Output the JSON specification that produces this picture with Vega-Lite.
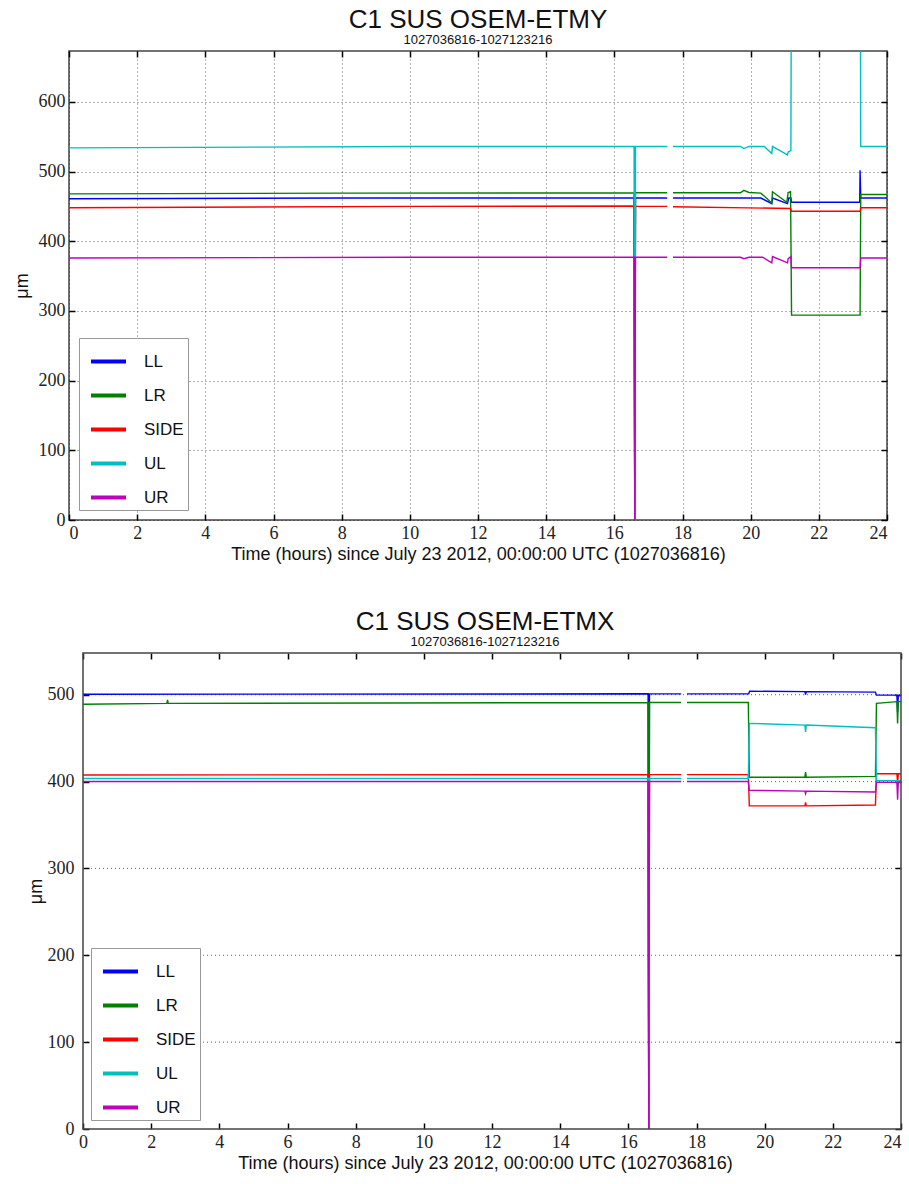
{
  "$schema": "https://vega.github.io/schema/vega-lite/v6.json",
  "background": "white",
  "padding": {"left": 12, "top": 6, "right": 5, "bottom": 5},
  "config": {
    "font": "Liberation Sans",
    "view": {"stroke": "#444", "strokeWidth": 1.5},
    "axis": {
      "labelFont": "Liberation Serif",
      "labelFontSize": 18,
      "labelColor": "#222",
      "titleFont": "Liberation Sans",
      "titleFontSize": 18,
      "titleFontWeight": "normal",
      "titleColor": "#111",
      "gridColor": "#000",
      "gridDash": [1, 3],
      "gridOpacity": 0.6,
      "gridWidth": 1,
      "tickColor": "#000",
      "tickSize": -6,
      "tickWidth": 1.5,
      "domain": false,
      "labelPadding": 10
    },
    "title": {"font": "Liberation Sans", "fontSize": 26, "fontWeight": "normal", "subtitleFont": "Liberation Sans", "subtitleFontSize": 13, "subtitleColor": "#111", "color": "#111", "anchor": "middle", "frame": "group", "offset": 3, "subtitlePadding": 1},
    "legend": {
      "orient": "bottom-left",
      "offset": 10,
      "padding": 4,
      "symbolOffset": 6,
      "fillColor": "white",
      "strokeColor": "#999",
      "symbolType": "stroke",
      "symbolSize": 1225,
      "symbolStrokeWidth": 4,
      "labelFont": "Liberation Sans",
      "labelFontSize": 17,
      "labelColor": "#111",
      "labelOffset": 16,
      "rowPadding": 6,
      "title": null
    }
  },
  "resolve": {"legend": {"color": "independent"}},
  "spacing": 45,
  "datasets": {
    "etmy": [
      {"s": "LL", "g": 1, "t": 0, "v": 461}, {"s": "LL", "g": 1, "t": 8, "v": 462}, {"s": "LL", "g": 1, "t": 16.58, "v": 462}, {"s": "LL", "g": 1, "t": 16.6, "v": 0}, {"s": "LL", "g": 1, "t": 16.62, "v": 462}, {"s": "LL", "g": 1, "t": 17.55, "v": 462},
      {"s": "LL", "g": 2, "t": 17.72, "v": 462}, {"s": "LL", "g": 2, "t": 20.3, "v": 462}, {"s": "LL", "g": 2, "t": 20.62, "v": 454}, {"s": "LL", "g": 2, "t": 20.64, "v": 462}, {"s": "LL", "g": 2, "t": 21.08, "v": 454}, {"s": "LL", "g": 2, "t": 21.12, "v": 462}, {"s": "LL", "g": 2, "t": 21.18, "v": 462}, {"s": "LL", "g": 2, "t": 21.2, "v": 456}, {"s": "LL", "g": 2, "t": 23.2, "v": 456}, {"s": "LL", "g": 2, "t": 23.21, "v": 502}, {"s": "LL", "g": 2, "t": 23.23, "v": 462}, {"s": "LL", "g": 2, "t": 24, "v": 462},

      {"s": "LR", "g": 1, "t": 0, "v": 468}, {"s": "LR", "g": 1, "t": 8, "v": 469}, {"s": "LR", "g": 1, "t": 16.58, "v": 469.5}, {"s": "LR", "g": 1, "t": 16.6, "v": 0}, {"s": "LR", "g": 1, "t": 16.62, "v": 469.5}, {"s": "LR", "g": 1, "t": 17.55, "v": 469.5},
      {"s": "LR", "g": 2, "t": 17.72, "v": 469.5}, {"s": "LR", "g": 2, "t": 19.7, "v": 469.5}, {"s": "LR", "g": 2, "t": 19.8, "v": 473}, {"s": "LR", "g": 2, "t": 19.95, "v": 470}, {"s": "LR", "g": 2, "t": 20.3, "v": 469}, {"s": "LR", "g": 2, "t": 20.62, "v": 455}, {"s": "LR", "g": 2, "t": 20.64, "v": 471}, {"s": "LR", "g": 2, "t": 21.06, "v": 456}, {"s": "LR", "g": 2, "t": 21.1, "v": 470}, {"s": "LR", "g": 2, "t": 21.17, "v": 471}, {"s": "LR", "g": 2, "t": 21.2, "v": 294}, {"s": "LR", "g": 2, "t": 23.21, "v": 294}, {"s": "LR", "g": 2, "t": 23.23, "v": 467}, {"s": "LR", "g": 2, "t": 24, "v": 467},

      {"s": "SIDE", "g": 1, "t": 0, "v": 448}, {"s": "SIDE", "g": 1, "t": 10, "v": 450}, {"s": "SIDE", "g": 1, "t": 16.58, "v": 450.5}, {"s": "SIDE", "g": 1, "t": 16.6, "v": 0}, {"s": "SIDE", "g": 1, "t": 16.62, "v": 450}, {"s": "SIDE", "g": 1, "t": 17.55, "v": 450},
      {"s": "SIDE", "g": 2, "t": 17.72, "v": 449.5}, {"s": "SIDE", "g": 2, "t": 21.17, "v": 447}, {"s": "SIDE", "g": 2, "t": 21.2, "v": 443}, {"s": "SIDE", "g": 2, "t": 23.21, "v": 443}, {"s": "SIDE", "g": 2, "t": 23.23, "v": 448}, {"s": "SIDE", "g": 2, "t": 24, "v": 448},

      {"s": "UL", "g": 1, "t": 0, "v": 534}, {"s": "UL", "g": 1, "t": 10, "v": 536}, {"s": "UL", "g": 1, "t": 16.58, "v": 536}, {"s": "UL", "g": 1, "t": 16.6, "v": 0}, {"s": "UL", "g": 1, "t": 16.62, "v": 536}, {"s": "UL", "g": 1, "t": 17.55, "v": 536},
      {"s": "UL", "g": 2, "t": 17.72, "v": 536}, {"s": "UL", "g": 2, "t": 19.7, "v": 536}, {"s": "UL", "g": 2, "t": 19.8, "v": 533}, {"s": "UL", "g": 2, "t": 19.95, "v": 536}, {"s": "UL", "g": 2, "t": 20.4, "v": 536}, {"s": "UL", "g": 2, "t": 20.62, "v": 526}, {"s": "UL", "g": 2, "t": 20.64, "v": 536}, {"s": "UL", "g": 2, "t": 21.08, "v": 524}, {"s": "UL", "g": 2, "t": 21.1, "v": 528}, {"s": "UL", "g": 2, "t": 21.18, "v": 530}, {"s": "UL", "g": 2, "t": 21.2, "v": 900}, {"s": "UL", "g": 2, "t": 23.21, "v": 900}, {"s": "UL", "g": 2, "t": 23.23, "v": 536}, {"s": "UL", "g": 2, "t": 24, "v": 536},

      {"s": "UR", "g": 1, "t": 0, "v": 376}, {"s": "UR", "g": 1, "t": 10, "v": 377}, {"s": "UR", "g": 1, "t": 16.58, "v": 377}, {"s": "UR", "g": 1, "t": 16.6, "v": 0}, {"s": "UR", "g": 1, "t": 16.62, "v": 377}, {"s": "UR", "g": 1, "t": 17.55, "v": 377},
      {"s": "UR", "g": 2, "t": 17.72, "v": 377}, {"s": "UR", "g": 2, "t": 19.7, "v": 377}, {"s": "UR", "g": 2, "t": 19.8, "v": 375}, {"s": "UR", "g": 2, "t": 19.95, "v": 377}, {"s": "UR", "g": 2, "t": 20.35, "v": 377}, {"s": "UR", "g": 2, "t": 20.62, "v": 369}, {"s": "UR", "g": 2, "t": 20.64, "v": 378}, {"s": "UR", "g": 2, "t": 21.08, "v": 369}, {"s": "UR", "g": 2, "t": 21.1, "v": 375}, {"s": "UR", "g": 2, "t": 21.18, "v": 378}, {"s": "UR", "g": 2, "t": 21.2, "v": 362}, {"s": "UR", "g": 2, "t": 23.21, "v": 362}, {"s": "UR", "g": 2, "t": 23.23, "v": 376}, {"s": "UR", "g": 2, "t": 24, "v": 376}
    ],
    "etmx": [
      {"s": "LL", "g": 1, "t": 0, "v": 500.5}, {"s": "LL", "g": 1, "t": 16.58, "v": 501}, {"s": "LL", "g": 1, "t": 16.6, "v": 0}, {"s": "LL", "g": 1, "t": 16.62, "v": 501}, {"s": "LL", "g": 1, "t": 17.55, "v": 501},
      {"s": "LL", "g": 2, "t": 17.72, "v": 501}, {"s": "LL", "g": 2, "t": 19.53, "v": 501}, {"s": "LL", "g": 2, "t": 19.56, "v": 504}, {"s": "LL", "g": 2, "t": 21.18, "v": 503.5}, {"s": "LL", "g": 2, "t": 21.2, "v": 500}, {"s": "LL", "g": 2, "t": 21.22, "v": 503.5}, {"s": "LL", "g": 2, "t": 23.25, "v": 503}, {"s": "LL", "g": 2, "t": 23.28, "v": 499.5}, {"s": "LL", "g": 2, "t": 23.88, "v": 499.5}, {"s": "LL", "g": 2, "t": 23.9, "v": 480}, {"s": "LL", "g": 2, "t": 23.92, "v": 499}, {"s": "LL", "g": 2, "t": 24, "v": 499},

      {"s": "LR", "g": 1, "t": 0, "v": 489}, {"s": "LR", "g": 1, "t": 2.46, "v": 490}, {"s": "LR", "g": 1, "t": 2.48, "v": 494}, {"s": "LR", "g": 1, "t": 2.5, "v": 490}, {"s": "LR", "g": 1, "t": 16.58, "v": 491}, {"s": "LR", "g": 1, "t": 16.6, "v": 0}, {"s": "LR", "g": 1, "t": 16.62, "v": 491}, {"s": "LR", "g": 1, "t": 17.55, "v": 491},
      {"s": "LR", "g": 2, "t": 17.72, "v": 491}, {"s": "LR", "g": 2, "t": 19.52, "v": 491}, {"s": "LR", "g": 2, "t": 19.55, "v": 405}, {"s": "LR", "g": 2, "t": 21.18, "v": 405}, {"s": "LR", "g": 2, "t": 21.2, "v": 411}, {"s": "LR", "g": 2, "t": 21.22, "v": 405}, {"s": "LR", "g": 2, "t": 23.25, "v": 406}, {"s": "LR", "g": 2, "t": 23.28, "v": 490}, {"s": "LR", "g": 2, "t": 23.88, "v": 492}, {"s": "LR", "g": 2, "t": 23.9, "v": 467}, {"s": "LR", "g": 2, "t": 23.92, "v": 492}, {"s": "LR", "g": 2, "t": 24, "v": 492},

      {"s": "SIDE", "g": 1, "t": 0, "v": 407.5}, {"s": "SIDE", "g": 1, "t": 16.58, "v": 408}, {"s": "SIDE", "g": 1, "t": 16.6, "v": 0}, {"s": "SIDE", "g": 1, "t": 16.62, "v": 408}, {"s": "SIDE", "g": 1, "t": 17.55, "v": 408},
      {"s": "SIDE", "g": 2, "t": 17.72, "v": 408}, {"s": "SIDE", "g": 2, "t": 19.52, "v": 408}, {"s": "SIDE", "g": 2, "t": 19.55, "v": 372}, {"s": "SIDE", "g": 2, "t": 21.18, "v": 372}, {"s": "SIDE", "g": 2, "t": 21.2, "v": 376}, {"s": "SIDE", "g": 2, "t": 21.22, "v": 372}, {"s": "SIDE", "g": 2, "t": 23.25, "v": 373}, {"s": "SIDE", "g": 2, "t": 23.28, "v": 409}, {"s": "SIDE", "g": 2, "t": 23.88, "v": 409}, {"s": "SIDE", "g": 2, "t": 23.9, "v": 398}, {"s": "SIDE", "g": 2, "t": 23.92, "v": 409}, {"s": "SIDE", "g": 2, "t": 24, "v": 409},

      {"s": "UL", "g": 1, "t": 0, "v": 403.5}, {"s": "UL", "g": 1, "t": 16.58, "v": 403.5}, {"s": "UL", "g": 1, "t": 16.6, "v": 0}, {"s": "UL", "g": 1, "t": 16.62, "v": 403.5}, {"s": "UL", "g": 1, "t": 17.55, "v": 403.5},
      {"s": "UL", "g": 2, "t": 17.72, "v": 403.5}, {"s": "UL", "g": 2, "t": 19.52, "v": 403.5}, {"s": "UL", "g": 2, "t": 19.55, "v": 467}, {"s": "UL", "g": 2, "t": 21.18, "v": 465}, {"s": "UL", "g": 2, "t": 21.2, "v": 457}, {"s": "UL", "g": 2, "t": 21.22, "v": 465}, {"s": "UL", "g": 2, "t": 23.25, "v": 462}, {"s": "UL", "g": 2, "t": 23.28, "v": 401}, {"s": "UL", "g": 2, "t": 24, "v": 401},

      {"s": "UR", "g": 1, "t": 0, "v": 400}, {"s": "UR", "g": 1, "t": 16.58, "v": 400}, {"s": "UR", "g": 1, "t": 16.6, "v": 0}, {"s": "UR", "g": 1, "t": 16.62, "v": 400}, {"s": "UR", "g": 1, "t": 17.55, "v": 400},
      {"s": "UR", "g": 2, "t": 17.72, "v": 400}, {"s": "UR", "g": 2, "t": 19.52, "v": 400}, {"s": "UR", "g": 2, "t": 19.55, "v": 390}, {"s": "UR", "g": 2, "t": 21.18, "v": 389}, {"s": "UR", "g": 2, "t": 21.2, "v": 386}, {"s": "UR", "g": 2, "t": 21.22, "v": 389}, {"s": "UR", "g": 2, "t": 23.25, "v": 388}, {"s": "UR", "g": 2, "t": 23.28, "v": 399}, {"s": "UR", "g": 2, "t": 23.88, "v": 399}, {"s": "UR", "g": 2, "t": 23.9, "v": 379}, {"s": "UR", "g": 2, "t": 23.92, "v": 399}, {"s": "UR", "g": 2, "t": 24, "v": 399}
    ],
    "ygrid": [{"gy": 100}, {"gy": 200}, {"gy": 300}, {"gy": 400}, {"gy": 500}],
    "frame": [{"k": "frame"}]
  },
  "vconcat": [
    {
      "title": {"text": "C1 SUS OSEM-ETMY", "subtitle": "1027036816-1027123216"},
      "width": 818,
      "height": 469,
      "data": {"name": "etmy"},
      "resolve": {"axis": {"x": "independent", "y": "independent"}},
      "layer": [
        {
          "mark": {"type": "line", "strokeWidth": 1.4, "clip": true},
          "encoding": {
            "x": {"field": "t", "type": "quantitative", "scale": {"domain": [0, 24], "nice": false}, "axis": {"values": [0, 2, 4, 6, 8, 10, 12, 14, 16, 18, 20, 22, 24], "title": "Time (hours) since July 23 2012, 00:00:00 UTC (1027036816)", "titlePadding": 3}},
            "y": {"field": "v", "type": "quantitative", "scale": {"domain": [0, 673], "nice": false}, "axis": {"values": [0, 100, 200, 300, 400, 500, 600], "title": "μm", "titlePadding": 6, "minExtent": 32, "maxExtent": 32}},
            "color": {"field": "s", "type": "nominal", "scale": {"domain": ["LL", "LR", "SIDE", "UL", "UR"], "range": ["#0000ff", "#008000", "#ff0000", "#00bfbf", "#bf00bf"]}},
            "detail": {"field": "g", "type": "nominal"}
          }
        },
        {
          "mark": {"type": "line", "opacity": 0, "clip": true},
          "encoding": {
            "x": {"field": "t", "type": "quantitative", "axis": {"orient": "top", "values": [0, 2, 4, 6, 8, 10, 12, 14, 16, 18, 20, 22, 24], "labels": false, "title": null, "grid": false}},
            "y": {"field": "v", "type": "quantitative", "axis": {"orient": "right", "values": [0, 100, 200, 300, 400, 500, 600], "labels": false, "title": null, "grid": false}}
          }
        }
      ]
    },
    {
      "title": {"text": "C1 SUS OSEM-ETMX", "subtitle": "1027036816-1027123216"},
      "width": 832,
      "height": 476,
      "view": {"stroke": null},
      "data": {"name": "etmx"},
      "resolve": {"axis": {"x": "independent", "y": "independent"}},
      "layer": [
        {
          "data": {"name": "ygrid"},
          "mark": {"type": "rule", "color": "#000", "strokeDash": [1, 3], "opacity": 0.6, "strokeWidth": 1},
          "encoding": {
            "y": {"field": "gy", "type": "quantitative", "axis": null},
            "x": {"datum": 0, "type": "quantitative", "axis": null},
            "x2": {"datum": 24}
          }
        },
        {
          "mark": {"type": "line", "strokeWidth": 1.4, "clip": true},
          "encoding": {
            "x": {"field": "t", "type": "quantitative", "scale": {"domain": [-0.4108, 24], "nice": false, "zero": false}, "axis": {"values": [0, 2, 4, 6, 8, 10, 12, 14, 16, 18, 20, 22, 24], "title": "Time (hours) since July 23 2012, 00:00:00 UTC (1027036816)", "titlePadding": 3}},
            "y": {"field": "v", "type": "quantitative", "scale": {"domain": [0, 548], "nice": false}, "axis": {"values": [0, 100, 200, 300, 400, 500], "title": "μm", "titlePadding": 6, "labelPadding": 15, "minExtent": 32, "maxExtent": 32, "offset": -14, "grid": false}},
            "color": {"field": "s", "type": "nominal", "scale": {"domain": ["LL", "LR", "SIDE", "UL", "UR"], "range": ["#0000ff", "#008000", "#ff0000", "#00bfbf", "#bf00bf"]}, "legend": {"orient": "none", "legendX": 22, "legendY": 295}},
            "detail": {"field": "g", "type": "nominal"}
          }
        },
        {
          "mark": {"type": "line", "opacity": 0, "clip": true},
          "encoding": {
            "x": {"field": "t", "type": "quantitative", "axis": {"orient": "top", "values": [0, 2, 4, 6, 8, 10, 12, 14, 16, 18, 20, 22, 24], "labels": false, "title": null, "grid": false}},
            "y": {"field": "v", "type": "quantitative", "axis": {"orient": "right", "values": [0, 100, 200, 300, 400, 500], "labels": false, "title": null, "grid": false}}
          }
        },
        {
          "data": {"name": "frame"},
          "mark": {"type": "rect", "filled": false, "color": "#444", "strokeWidth": 1.5},
          "encoding": {
            "x": {"datum": 0, "type": "quantitative", "axis": null},
            "x2": {"datum": 24},
            "y": {"datum": 0, "type": "quantitative", "axis": null},
            "y2": {"datum": 548}
          }
        }
      ]
    }
  ]
}
